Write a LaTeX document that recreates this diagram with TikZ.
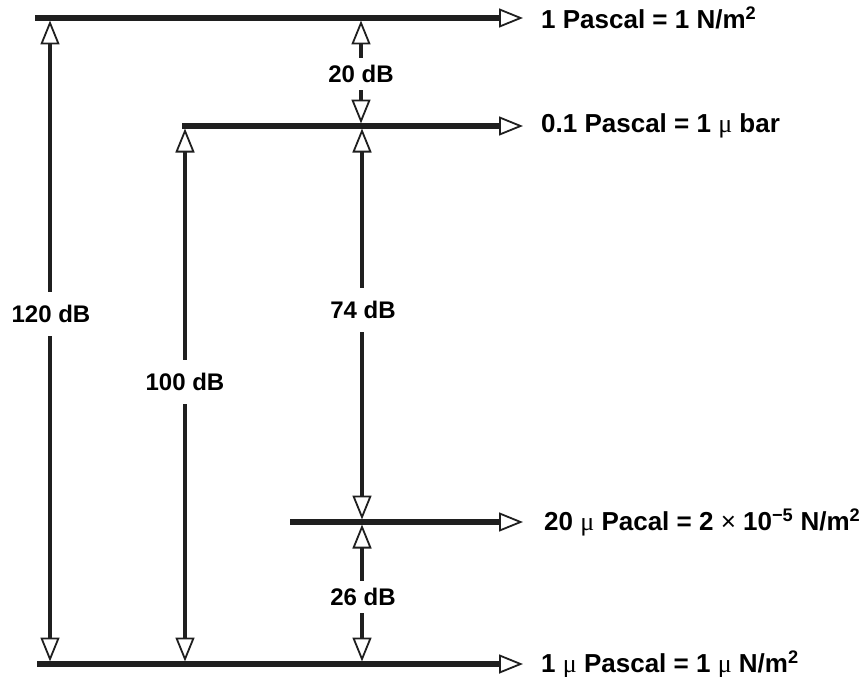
\documentclass[tikz,border=0pt]{standalone}
\usepackage{fontspec}
\setmainfont{Liberation Sans}
\newfontfamily\symf{Liberation Serif}
\usetikzlibrary{arrows.meta}
\newcommand{\mumark}{{\symf\mdseries μ}}
\begin{document}
\begin{tikzpicture}[x=1pt,y=-1pt,
  >={Triangle[open,length=24pt,width=19pt,line width=1.8pt]},
  hline/.style={line width=5.5pt, draw=black!88},
  vline/.style={line width=4.5pt, draw=black!88},
  dblabel/.style={font=\bfseries\fontsize{24}{27}\selectfont, inner xsep=1pt, inner ysep=0pt, minimum height=#1},
  dblabel/.default=44pt,
  txt/.style={font=\bfseries\fontsize{26}{29}\selectfont, anchor=west, inner sep=0pt}]
\useasboundingbox (0,0) rectangle (867,677);
% horizontal levels
\coordinate (h1s) at (35,18);  \coordinate (h1e) at (523,18);
\coordinate (h2s) at (182,126); \coordinate (h2e) at (523,126);
\coordinate (h3s) at (290,522); \coordinate (h3e) at (523,522);
\coordinate (h4s) at (37,664);  \coordinate (h4e) at (523,664);
\draw[hline,->] (h1s) -- (h1e);
\draw[hline,->] (h2s) -- (h2e);
\draw[hline,->] (h3s) -- (h3e);
\draw[hline,->] (h4s) -- (h4e);
% level texts
\node[txt] (t1) at (541,18) {1 Pascal = 1 N/m\textsuperscript{2}};
\node[txt] (t2) at (541,126) {0.1 Pascal = 1 \mumark\ bar};
\node[txt] (t3) at (544,522) {20 \mumark\ Pacal = 2 {\mdseries×} 10\textsuperscript{−5} N/m\textsuperscript{2}};
\node[txt] (t4) at (541,664) {1 \mumark\ Pascal = 1 \mumark\ N/m\textsuperscript{2}};
% end points of the vertical arrows
\coordinate (p120t) at (50,20.5);  \coordinate (p120b) at (50,661.5);
\coordinate (p100t) at (185,128.5); \coordinate (p100b) at (185,661.5);
\coordinate (p74t) at (362,128.5);  \coordinate (p74b) at (362,519.5);
\coordinate (p20t) at (361,20.5);   \coordinate (p20b) at (361,123.5);
\coordinate (p26t) at (362,524.5);  \coordinate (p26b) at (362,661.5);
% labels
\node[dblabel] (l120) at (51,314) {120 dB};
\node[dblabel] (l100) at (185,382) {100 dB};
\node[dblabel] (l74) at (363,310) {74 dB};
\node[dblabel=32pt] (l20) at (361,74) {20 dB};
\node[dblabel=32pt] (l26) at (363,597) {26 dB};
% vertical arrows
\draw[vline,->] (l120.north -| p120t) -- (p120t);
\draw[vline,->] (l120.south -| p120b) -- (p120b);
\draw[vline,->] (l100.north -| p100t) -- (p100t);
\draw[vline,->] (l100.south -| p100b) -- (p100b);
\draw[vline,->] (l74.north -| p74t) -- (p74t);
\draw[vline,->] (l74.south -| p74b) -- (p74b);
\draw[vline,->] (l20.north -| p20t) -- (p20t);
\draw[vline,->] (l20.south -| p20b) -- (p20b);
\draw[vline,->] (l26.north -| p26t) -- (p26t);
\draw[vline,->] (l26.south -| p26b) -- (p26b);
\end{tikzpicture}
\end{document}
